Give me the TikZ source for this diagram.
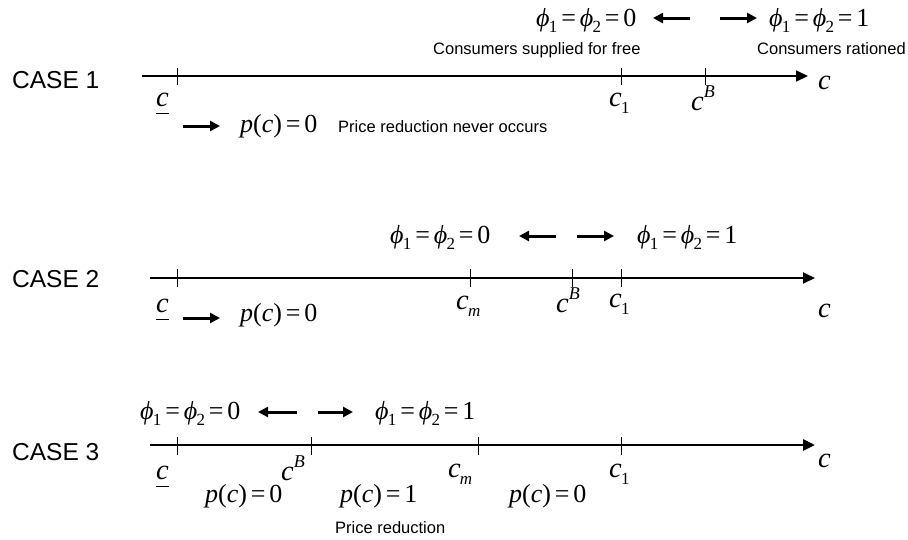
\documentclass[tikz,border=0pt]{standalone}
\usepackage{fontspec}
\setmainfont{Liberation Sans}
\newfontfamily\tm{Liberation Serif}
\usetikzlibrary{arrows.meta}
\newcommand{\mysub}[1]{\hspace{-0.03em}\raisebox{-0.25em}{\fontsize{17}{17}\selectfont\upshape #1}}
\newcommand{\mysup}[1]{\raisebox{0.45em}{\fontsize{18}{18}\selectfont\itshape #1}}
\newcommand{\myphi}{\textit{ϕ}}
\newcommand{\eqs}{\hspace{0.15em}=\hspace{0.15em}}
\newcommand{\phizero}{\myphi\mysub{1}\eqs\myphi\mysub{2}\eqs 0}
\newcommand{\phione}{\myphi\mysub{1}\eqs\myphi\mysub{2}\eqs 1}
\newcommand{\pc}[1]{\textit{p}(\textit{c})\eqs #1}
\newcommand{\lowc}{\underline{\textit{c}\vphantom{p}}}
\tikzset{
  casel/.style={font=\fontsize{24.5}{28}\selectfont, anchor=west, inner sep=0pt},
  note/.style={font=\fontsize{16.5}{20}\selectfont, anchor=base west, inner sep=0pt},
  mth/.style={font=\fontsize{26}{30}\selectfont\tm, anchor=base west, inner sep=0pt},
  clab/.style={font=\fontsize{28.5}{32}\selectfont\tm, anchor=base west, inner sep=0pt},
  axisline/.style={line width=2pt, -{Triangle[length=12pt,width=11pt]}},
  tk/.style={line width=1pt},
  sarr/.style={line width=3pt, -{Triangle[length=10pt,width=10pt]}}
}
\begin{document}
\begin{tikzpicture}[x=1pt,y=-1pt]
\useasboundingbox (0,0) rectangle (908,539);
% ---------------- CASE 1 ----------------
\node[casel] (case1) at (12,80) {CASE 1};
\coordinate (a1s) at (142,76);
\coordinate (a1e) at (808,76);
\draw[axisline] (a1s) -- (a1e);
\foreach \x/\n in {177/l,621/one,705/B}{
  \coordinate (c1\n t) at (\x,68); \coordinate (c1\n b) at (\x,85);
  \draw[tk] (c1\n t) -- (c1\n b);}
\node[clab] (c1low) at (156,106) {\lowc};
\node[clab] (c1c1) at (609,106) {\textit{c}\mysub{1}};
\node[clab] (c1cB) at (691,110) {\textit{c}\mysup{B}};
\node[clab] (c1c) at (818,89) {\textit{c}};
\coordinate (c1ps) at (183,126); \coordinate (c1pe) at (220,126);
\draw[sarr] (c1ps) -- (c1pe);
\node[mth] (c1p) at (240,132) {\pc{0}};
\node[note] (c1never) at (338,132) {Price reduction never occurs};
\node[mth] (c1phi0) at (536,26) {\phizero};
\coordinate (c1ls) at (690,18); \coordinate (c1le) at (653,18);
\draw[sarr] (c1ls) -- (c1le);
\coordinate (c1rs) at (720,18); \coordinate (c1re) at (757,18);
\draw[sarr] (c1rs) -- (c1re);
\node[mth] (c1phi1) at (769,26) {\phione};
\node[note] (c1free) at (433,54) {Consumers supplied for free};
\node[note] (c1rat) at (757,54) {Consumers rationed};
% ---------------- CASE 2 ----------------
\node[casel] (case2) at (12,279) {CASE 2};
\coordinate (a2s) at (150,278);
\coordinate (a2e) at (815,278);
\draw[axisline] (a2s) -- (a2e);
\foreach \x/\n in {177/l,470/m,572/B,621/one}{
  \coordinate (c2\n t) at (\x,269); \coordinate (c2\n b) at (\x,287);
  \draw[tk] (c2\n t) -- (c2\n b);}
\node[clab] (c2low) at (156,312) {\lowc};
\coordinate (c2ps) at (183,318); \coordinate (c2pe) at (220,318);
\draw[sarr] (c2ps) -- (c2pe);
\node[mth] (c2p) at (240,321) {\pc{0}};
\node[clab] (c2cm) at (456,309) {\textit{c}\mysub{\itshape m}};
\node[clab] (c2cB) at (556,312) {\textit{c}\mysup{B}};
\node[clab] (c2c1) at (609,307) {\textit{c}\mysub{1}};
\node[clab] (c2c) at (818,317) {\textit{c}};
\node[mth] (c2phi0) at (390,243) {\phizero};
\coordinate (c2ls) at (556,236); \coordinate (c2le) at (519,236);
\draw[sarr] (c2ls) -- (c2le);
\coordinate (c2rs) at (577,236); \coordinate (c2re) at (614,236);
\draw[sarr] (c2rs) -- (c2re);
\node[mth] (c2phi1) at (637,243) {\phione};
% ---------------- CASE 3 ----------------
\node[casel] (case3) at (12,452) {CASE 3};
\coordinate (a3s) at (150,445);
\coordinate (a3e) at (815,445);
\draw[axisline, line width=2.8pt] (a3s) -- (a3e);
\foreach \x/\n in {177/l,311/B,478/m,621/one}{
  \coordinate (c3\n t) at (\x,437); \coordinate (c3\n b) at (\x,455);
  \draw[tk] (c3\n t) -- (c3\n b);}
\node[clab] (c3low) at (156,479) {\lowc};
\node[clab] (c3cB) at (281,480) {\textit{c}\mysup{B}};
\node[clab] (c3cm) at (448,477) {\textit{c}\mysub{\itshape m}};
\node[clab] (c3c1) at (609,477) {\textit{c}\mysub{1}};
\node[clab] (c3c) at (818,467) {\textit{c}};
\node[mth] (c3p0a) at (205,502) {\pc{0}};
\node[mth] (c3p1) at (340,502) {\pc{1}};
\node[mth] (c3p0b) at (509,502) {\pc{0}};
\node[note] (c3red) at (335,533) {Price reduction};
\node[mth] (c3phi0) at (140,419) {\phizero};
\coordinate (c3ls) at (297,412); \coordinate (c3le) at (258,412);
\draw[sarr] (c3ls) -- (c3le);
\coordinate (c3rs) at (318,412); \coordinate (c3re) at (353,412);
\draw[sarr] (c3rs) -- (c3re);
\node[mth] (c3phi1) at (375,419) {\phione};
\end{tikzpicture}
\end{document}
